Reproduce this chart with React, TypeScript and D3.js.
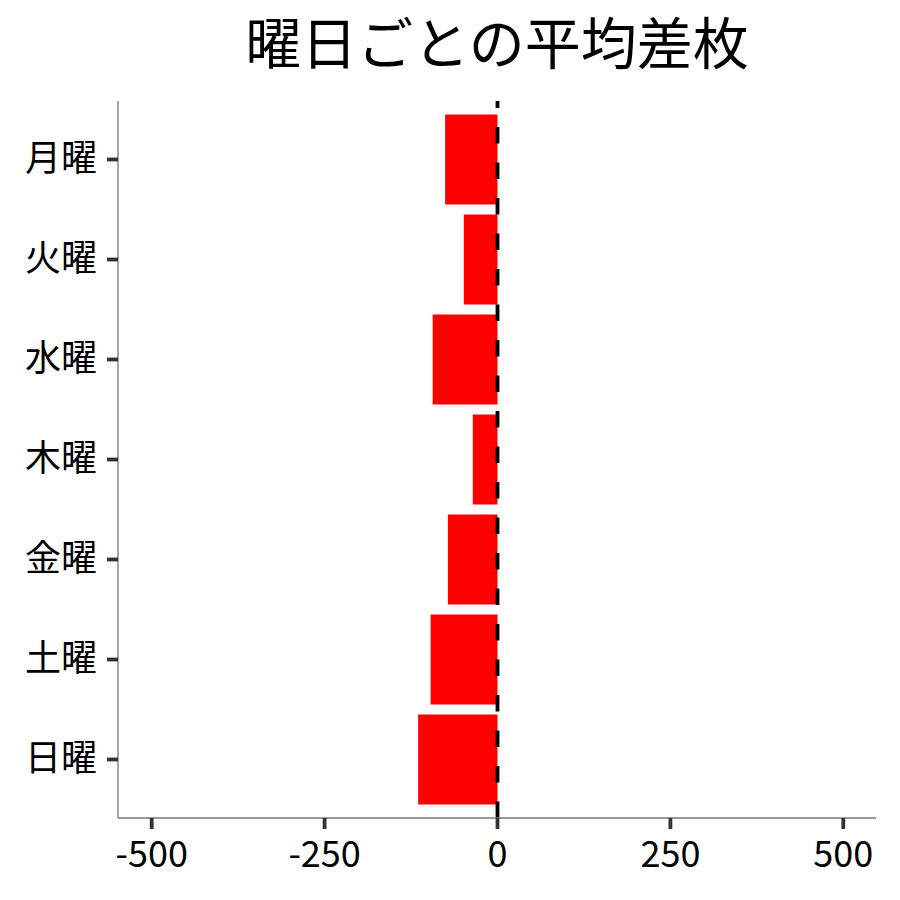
import * as d3 from 'd3';
import { useEffect, useRef } from 'react';

const days = ['月曜', '火曜', '水曜', '木曜', '金曜', '土曜', '日曜'];
const avgDiff = [-75, -48, -93, -35, -71, -96, -114];
const xTicks = [-500, -250, 0, 250, 500];

const App = () => {
  const ref = useRef<SVGSVGElement | null>(null);

  useEffect(() => {
    const svg = d3.select(ref.current);
    svg.selectAll('*').remove();

    const left = 118, right = 876, top = 101, bottom = 818;
    const font = '"Noto Sans CJK JP", "Noto Sans", sans-serif';

    const x = d3.scaleLinear().domain([-548, 548]).range([left, right]);
    // ggplot style discrete expansion: 0.6 units on each side
    const y = d3.scaleBand().domain(days).range([top, bottom]).paddingInner(0.1).paddingOuter(0.135);

    svg.append('rect').attr('width', 900).attr('height', 900).attr('fill', 'white');

    svg.append('text')
      .attr('x', (left + right) / 2)
      .attr('y', 64)
      .attr('text-anchor', 'middle')
      .attr('font-family', font)
      .attr('font-size', 56)
      .text('曜日ごとの平均差枚');

    svg.selectAll('.bar')
      .data(days)
      .enter()
      .append('rect')
      .attr('class', 'bar')
      .attr('x', (d, i) => x(Math.min(0, avgDiff[i])))
      .attr('y', (d) => y(d) || 0)
      .attr('width', (d, i) => Math.abs(x(avgDiff[i]) - x(0)) + 0.5)
      .attr('height', y.bandwidth())
      .attr('fill', 'red');

    // zero reference line, dashes start from the bottom
    svg.append('line')
      .attr('x1', x(0) + 0.5).attr('x2', x(0) + 0.5)
      .attr('y1', bottom).attr('y2', top)
      .attr('stroke', 'black')
      .attr('stroke-width', 3.8)
      .attr('stroke-dasharray', '16.5 19');

    const xAxis = svg.append('g')
      .attr('transform', `translate(0,${bottom})`)
      .call(d3.axisBottom(x).tickValues(xTicks).tickSize(11).tickPadding(12));
    xAxis.select('.domain').attr('stroke', '#777').attr('stroke-width', 1.3).attr('d', `M${left},0H${right}`);
    xAxis.selectAll('.tick line').attr('stroke', '#333').attr('stroke-width', 3.8);
    xAxis.selectAll('.tick text')
      .attr('font-family', font).attr('font-size', 36).attr('fill', 'black')
      .text((d: any) => String(d));

    const yAxis = svg.append('g')
      .attr('transform', `translate(${left},0)`)
      .call(d3.axisLeft(y).tickSize(11).tickPadding(10));
    yAxis.select('.domain').attr('stroke', '#777').attr('stroke-width', 1.3).attr('d', `M0,${top}V${bottom}`);
    yAxis.selectAll('.tick line').attr('stroke', '#333').attr('stroke-width', 3.8);
    yAxis.selectAll('.tick text')
      .attr('font-family', font).attr('font-size', 36).attr('fill', 'black');
  }, []);

  return <svg ref={ref} width={900} height={900} style={{ display: 'block', margin: -8 }} />;
};

export default App;
